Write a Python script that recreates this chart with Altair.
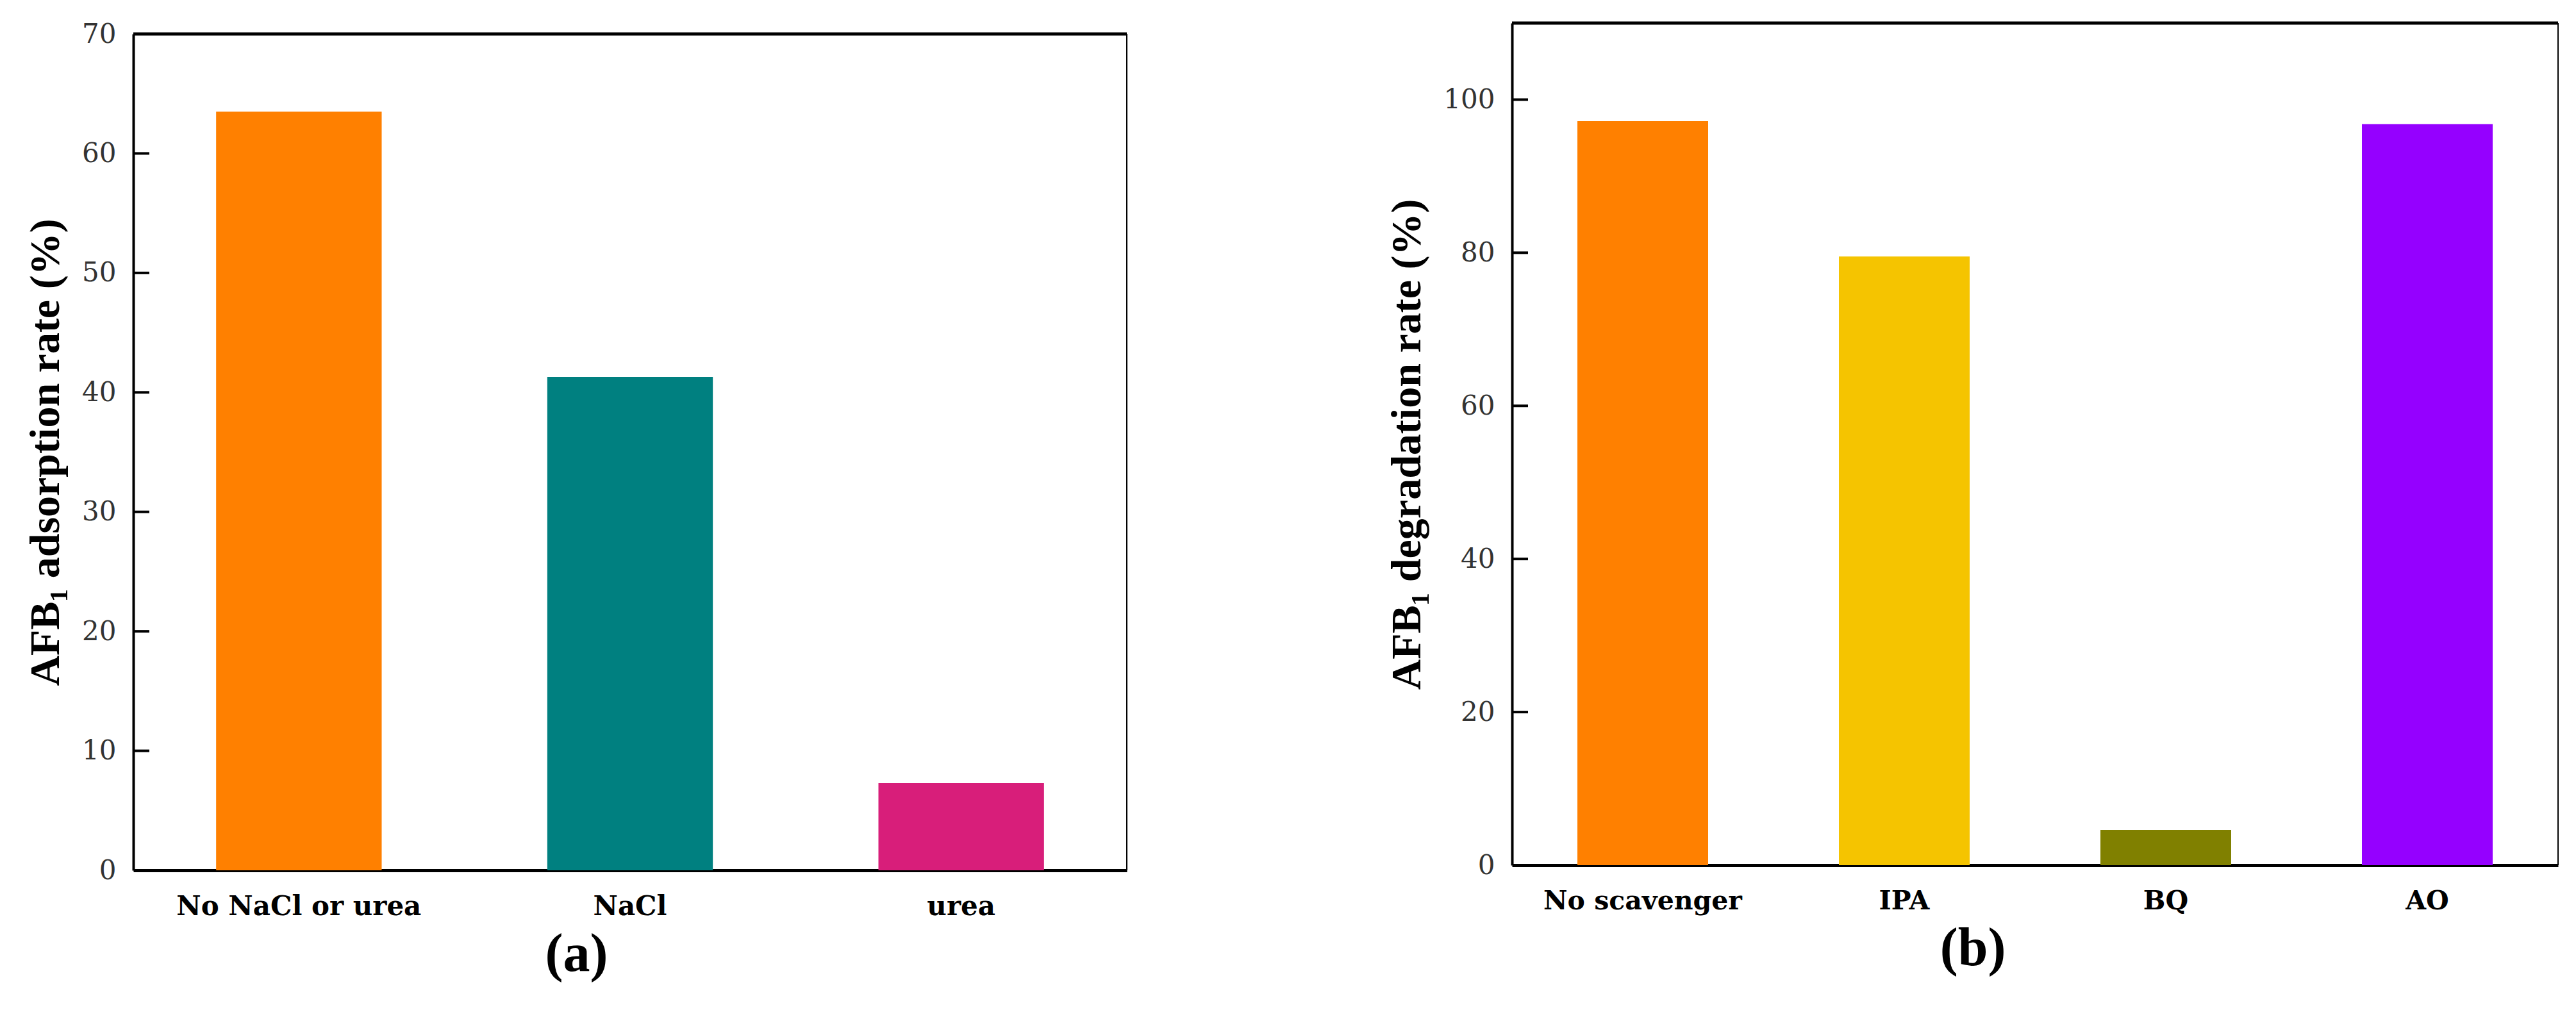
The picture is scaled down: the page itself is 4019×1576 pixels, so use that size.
import altair as alt
import pandas as pd

cats_a = ["No NaCl or urea", "NaCl", "urea"]
vals_a = [63.5, 41.3, 7.3]
colors_a = ["#FF8000", "#008080", "#D81E7A"]
ticks_a = [0, 10, 20, 30, 40, 50, 60, 70]

cats_b = ["No scavenger", "IPA", "BQ", "AO"]
vals_b = [97.2, 79.5, 4.6, 96.8]
colors_b = ["#FF8000", "#F5C400", "#808000", "#9500FF"]
ticks_b = [0, 20, 40, 60, 80, 100]


def panel(cats, vals, colors, ticks, ymax, ytitle, caption, w, h, top, catsize):
    df = pd.DataFrame({"cat": cats, "val": vals})
    one = pd.DataFrame({"k": [0]})
    yscale = alt.Scale(domain=[0, ymax], nice=False, zero=True, range=[h, top])
    yaxis = alt.Axis(
        title=ytitle, values=ticks, ticks=False, grid=False,
        domainWidth=4, domainColor="black",
        labelFont="DejaVu Serif", labelFontSize=42, labelColor="#333333", labelPadding=27,
        titleFont="Liberation Serif", titleFontSize=66, titleFontWeight="bold",
        titleColor="black", titlePadding=22,
    )
    xaxis = alt.Axis(
        title=None, labelAngle=0, ticks=False, domainWidth=5, domainColor="black",
        labelFont="DejaVu Serif", labelFontWeight="bold", labelFontSize=catsize,
        labelColor="black", labelPadding=36, labelLimit=0,
    )
    bars = alt.Chart(df).mark_bar().encode(
        x=alt.X("cat:N", sort=cats, scale=alt.Scale(paddingInner=0.5, paddingOuter=0.25), axis=xaxis),
        y=alt.Y("val:Q", scale=yscale, axis=yaxis),
        color=alt.Color("cat:N", sort=cats, scale=alt.Scale(domain=cats, range=colors), legend=None),
    )
    layers = [bars]
    for v in ticks[1:]:
        layers.append(
            alt.Chart(one).mark_rule(color="black", strokeWidth=4).encode(
                y=alt.datum(v), x=alt.value(0), x2=alt.value(25)
            )
        )
    layers.append(
        alt.Chart(one).mark_rule(color="black", strokeWidth=5).encode(y=alt.datum(ymax))
    )
    layers.append(
        alt.Chart(one).mark_rule(color="black", strokeWidth=2).encode(
            x=alt.value(w), y=alt.datum(ymax), y2=alt.datum(0)
        )
    )
    return alt.layer(*layers).properties(
        width=w, height=h,
        title=alt.TitleParams(
            caption, orient="bottom", anchor="middle", frame="bounds",
            font="Liberation Serif", fontSize=84, fontWeight="bold", color="black", offset=14,
        ),
    )


pa = panel(cats_a, vals_a, colors_a, ticks_a, 70, "AFB\u2081 adsorption rate (%)", "(a)", 1550, 1322, 17, 42)
pb = panel(cats_b, vals_b, colors_b, ticks_b, 110, "AFB\u2081 degradation rate (%)", "(b)", 1632, 1314, 0, 41)

chart = alt.hconcat(pa, pb, spacing=401).resolve_scale(color="independent").properties(
    padding={"left": 30, "top": 23, "right": 0, "bottom": 0}
).configure_view(stroke="transparent")

chart.save("out.html", embed_options={"renderer": "svg", "actions": False})
